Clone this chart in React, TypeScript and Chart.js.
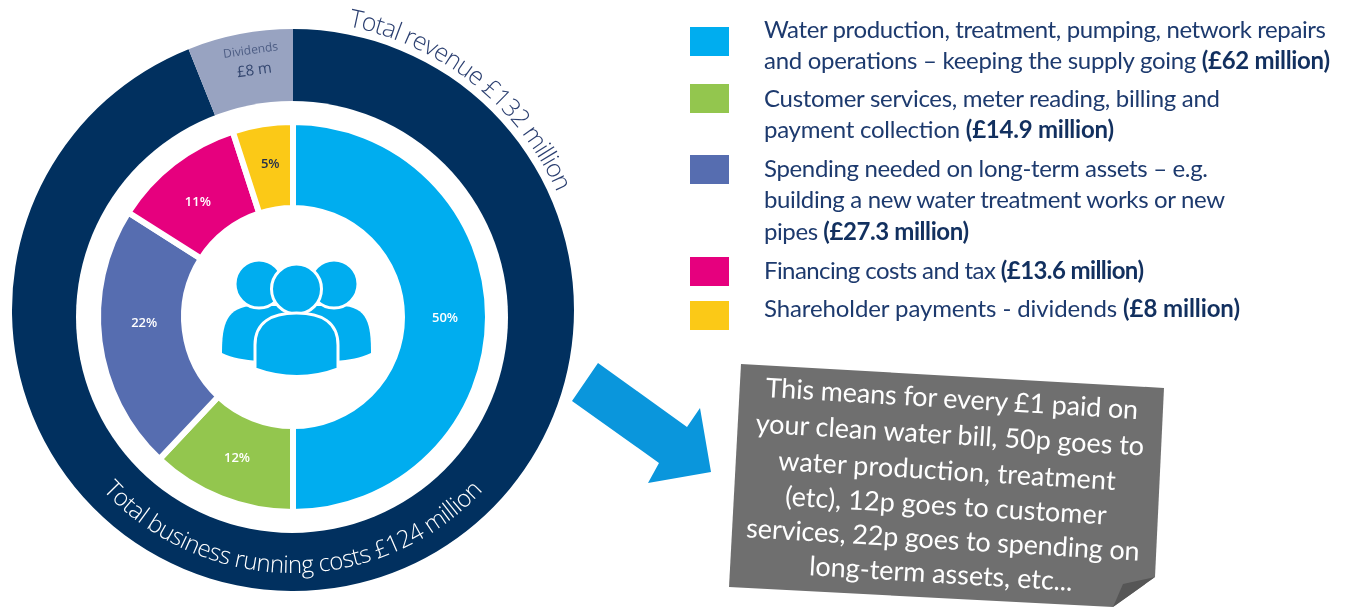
import React, { useEffect, useRef } from "react";
import { Chart, registerables } from "chart.js";

Chart.register(...registerables);

// Revenue ring, £ million
const revenueLabels = ["Total business running costs", "Dividends"];
const revenueValues = [124, 8];
const revenueColors = ["#01305f", "#98a3c1"];

// Bill split ring, percent of running costs and dividends
const splitLabels = ["Water production", "Customer services", "Long-term assets", "Financing and tax", "Dividends"];
const splitPercent = [50, 12, 22, 11, 5];
const splitColors = ["#00adef", "#93c64e", "#566db0", "#e6007e", "#fbc917"];
const splitTextColors = ["#ffffff", "#ffffff", "#ffffff", "#ffffff", "#26304a"];
// Hand placement of the percent labels relative to each slice's middle
const splitLabelNudge = [[0, 1], [0, 0], [2, -13], [-2, 5], [1, -3]];

const swatchRows = [27, 84, 155, 257, 301];

// [regular text, bold text, left, baseline, right]
const legendLines: [string, string, number, number, number][] = [
  ["Water production, treatment, pumping, network repairs", "", 764, 38, 1326],
  ["and operations – keeping the supply going ", "(£62 million)", 764, 69, 1330],
  ["Customer services, meter reading, billing and", "", 764, 107, 1220],
  ["payment collection ", "(£14.9 million)", 764, 138, 1114],
  ["Spending needed on long-term assets – e.g.", "", 764, 177, 1208],
  ["building a new water treatment works or new", "", 764, 208, 1225],
  ["pipes ", "(£27.3 million)", 764, 240, 969],
  ["Financing costs and tax ", "(£13.6 million)", 764, 279, 1144],
  ["Shareholder payments - dividends ", "(£8 million)", 764, 317, 1240],
];

// [text, centre x, centre y, width]
const noteLines: [string, number, number, number][] = [
  ["This means for every £1 paid on", 952, 399, 373],
  ["your clean water bill, 50p goes to", 950, 435, 389],
  ["water production, treatment", 947, 471, 338],
  ["(etc), 12p goes to customer", 946, 506, 322],
  ["services, 22p goes to spending on", 943, 540, 394],
  ["long-term assets, etc...", 941, 574, 264],
];

const RING_FONT = '"Open Sans", sans-serif';
const LEGEND_FONT = 'Lato, sans-serif';

// Lays a string along a circle, stretching the gaps so it fills the given clock angles.
function drawArcText(
  ctx: CanvasRenderingContext2D,
  text: string,
  cx: number,
  cy: number,
  r: number,
  startDeg: number,
  endDeg: number,
  font: string,
  color: string,
  inward: boolean,
) {
  ctx.save();
  ctx.font = font;
  ctx.fillStyle = color;
  ctx.textAlign = "center";
  ctx.textBaseline = "alphabetic";
  const widths = Array.from(text).map((c) => ctx.measureText(c).width);
  const total = widths.reduce((a, b) => a + b, 0);
  const arcLen = (Math.abs(endDeg - startDeg) * Math.PI * r) / 180;
  const gap = (arcLen - total) / (text.length - 1);
  const dir = endDeg > startDeg ? 1 : -1;
  let run = 0;
  Array.from(text).forEach((c, i) => {
    const mid = run + widths[i] / 2;
    const deg = startDeg + (dir * (mid / r) * 180) / Math.PI;
    const rad = (deg * Math.PI) / 180;
    ctx.save();
    ctx.translate(cx + r * Math.sin(rad), cy - r * Math.cos(rad));
    ctx.rotate(inward ? rad - Math.PI : rad);
    ctx.fillText(c, 0, 0);
    ctx.restore();
    run += widths[i] + gap;
  });
  ctx.restore();
}

const revenueText = {
  id: "revenueText",
  afterDraw(chart: Chart) {
    const ctx = chart.ctx;
    drawArcText(ctx, "Total revenue £132 million", 293, 310, 289, 11, 66, `300 25px ${RING_FONT}`, "#2b3f70", false);
    drawArcText(ctx, "Total business running costs £124 million", 293, 313, 260, 227, 133, `300 24px ${RING_FONT}`, "#ffffff", true);
    ctx.save();
    ctx.translate(252, 60);
    ctx.rotate((-8 * Math.PI) / 180);
    ctx.textAlign = "center";
    ctx.fillStyle = "#4d5d84";
    ctx.font = `12px ${RING_FONT}`;
    ctx.fillText("Dividends", 0, -6);
    ctx.font = `15px ${RING_FONT}`;
    ctx.fillStyle = "#33466f";
    ctx.fillText("£8 m", 1, 15);
    ctx.restore();
  },
};

const splitDecor = {
  id: "splitDecor",
  beforeDatasetsDraw(chart: Chart) {
    // The inner edge of the revenue ring sits lower than its outer edge.
    const ctx = chart.ctx;
    ctx.save();
    ctx.fillStyle = "#ffffff";
    ctx.beginPath();
    ctx.arc(292, 317, 216, 0, Math.PI * 2);
    ctx.fill();
    ctx.restore();
  },
  afterDatasetsDraw(chart: Chart) {
    const ctx = chart.ctx;
    ctx.save();
    ctx.font = `600 13px ${RING_FONT}`;
    ctx.textAlign = "center";
    ctx.textBaseline = "middle";
    chart.getDatasetMeta(0).data.forEach((arc: any, i: number) => {
      const p = arc.tooltipPosition();
      ctx.fillStyle = splitTextColors[i];
      ctx.fillText(`${splitPercent[i]}%`, p.x + splitLabelNudge[i][0], p.y + splitLabelNudge[i][1]);
    });
    ctx.restore();
  },
};

export default function App() {
  const revenueRef = useRef<HTMLCanvasElement>(null);
  const splitRef = useRef<HTMLCanvasElement>(null);

  useEffect(() => {
    document.body.style.margin = "0";
    const shared = {
      animation: false as const,
      responsive: false,
      plugins: { legend: { display: false }, tooltip: { enabled: false } },
    };
    const revenue = new Chart(revenueRef.current!, {
      type: "doughnut",
      data: {
        labels: revenueLabels,
        datasets: [{ data: revenueValues, backgroundColor: revenueColors, borderWidth: 0 }],
      },
      options: {
        ...shared,
        radius: 281,
        cutout: `${(205 / 281) * 100}%`,
        layout: { padding: { top: 12, right: 14 } },
      },
      plugins: [revenueText],
    } as any);
    const split = new Chart(splitRef.current!, {
      type: "doughnut",
      data: {
        labels: splitLabels,
        datasets: [{ data: splitPercent, backgroundColor: splitColors, borderColor: "#ffffff", borderWidth: 6 }],
      },
      options: {
        ...shared,
        radius: 195,
        cutout: `${(109 / 195) * 100}%`,
        layout: { padding: { top: 26, right: 14 } },
      },
      plugins: [splitDecor],
    } as any);
    return () => {
      revenue.destroy();
      split.destroy();
    };
  }, []);

  const canvasStyle: React.CSSProperties = { position: "absolute", left: 0, top: 0 };

  return (
    <div style={{ position: "fixed", left: 0, top: 0, width: 1347, height: 608, overflow: "hidden", background: "#fff" }}>
      <canvas ref={revenueRef} width={600} height={608} style={canvasStyle} />
      <canvas ref={splitRef} width={600} height={608} style={canvasStyle} />
      <svg width={1347} height={608} style={{ position: "absolute", left: 0, top: 0 }}>
        {/* People symbol in the middle of the rings */}
        <g fill="#00adef" stroke="#ffffff" strokeWidth={3}>
          <path d="M222 353 C222 325 226 306 255 306 L340 306 C368 306 371 325 371 353 C360 358 350 360 335 361 L258 361 C245 360 232 358 222 353 Z" stroke="none" />
          <circle cx={259} cy={284} r={24} />
          <circle cx={334} cy={284} r={24} />
          <circle cx={296.5} cy={289} r={25} />
          <path d="M255 369 L255 345 C255 322 272 313 296.5 313 C321 313 338 322 338 345 L338 369 C312 379 282 379 255 369 Z" />
        </g>

        {/* Legend */}
        {splitColors.map((c, i) => (
          <rect key={c} x={690} y={swatchRows[i]} width={39} height={29} fill={c} />
        ))}
        {legendLines.map(([plain, bold, left, base, right]) => (
          <text
            key={base}
            x={left}
            y={base}
            textLength={right - left}
            lengthAdjust="spacing"
            fontFamily={LEGEND_FONT}
            fontSize={24}
            fill="#1d3a6e"
          >
            {plain}
            {bold ? (
              <tspan fontWeight={700} fill="#12305f">
                {bold}
              </tspan>
            ) : null}
          </text>
        ))}

        {/* Arrow pointing at the note */}
        <polygon points="598,363 572,401 659,463 648,483 711,472 700,408 687,427" fill="#0a96dc" />

        {/* Note with a curled corner */}
        <polygon points="741,364 1164,388 1155,577 1113,607 729,587" fill="#6f6f6f" />
        <polygon points="1155,577 1123,584 1113,607" fill="#565656" />
        {noteLines.map(([line, cx, cy, w]) => (
          <text
            key={line}
            transform={`translate(${cx} ${cy}) rotate(3.4)`}
            y={9}
            textAnchor="middle"
            textLength={w}
            lengthAdjust="spacing"
            fontFamily={LEGEND_FONT}
            fontSize={27}
            fill="#ffffff"
          >
            {line}
          </text>
        ))}
      </svg>
    </div>
  );
}
